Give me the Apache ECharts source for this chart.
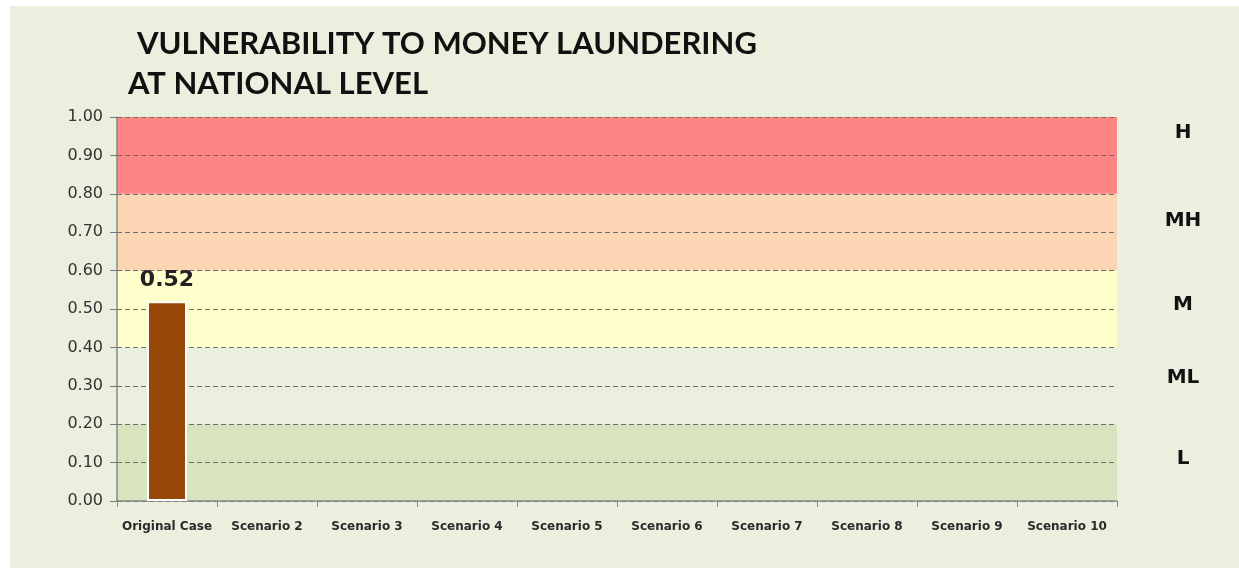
<!DOCTYPE html>
<html><head><meta charset="utf-8">
<script src="https://cdn.jsdelivr.net/npm/echarts@6/dist/echarts.min.js"></script>
<style>html,body{margin:0;padding:0;background:#fff}#c{width:1239px;height:568px}</style>
</head><body><div id="c"></div>
<script>
const titleLines = ['VULNERABILITY TO MONEY LAUNDERING', 'AT NATIONAL LEVEL'];
const categories = ['Original Case','Scenario 2','Scenario 3','Scenario 4','Scenario 5','Scenario 6','Scenario 7','Scenario 8','Scenario 9','Scenario 10'];
const values = [0.52, null, null, null, null, null, null, null, null, null];
const bandEdges = [0, 0.2, 0.4, 0.6, 0.8, 1.0];
const bandColors = ['#D8E4BD', '#EBF0DE', '#FFFFCC', '#FCD5B5', '#FF8585'];
const levelLabels = ['L', 'ML', 'M', 'MH', 'H'];
const levelLabelValues = [0.11, 0.32, 0.51, 0.73, 0.96];

const chart = echarts.init(document.getElementById('c'));
const font = 'Lato, "Open Sans", sans-serif';
const wide = '"DejaVu Sans", sans-serif';
const bands = bandColors.map((c, i) => [{yAxis: bandEdges[i], itemStyle: {color: c}}, {yAxis: bandEdges[i+1]}]);

chart.setOption({
  backgroundColor: '#ffffff',
  animation: false,
  grid: {left: 117, right: 122, top: 117, bottom: 67},
  xAxis: {
    type: 'category', data: categories,
    axisLine: {lineStyle: {color: '#888', width: 1.5}},
    axisTick: {show: true, length: 6, lineStyle: {color: '#888'}},
    axisLabel: {margin: 20, fontSize: 12, fontWeight: 'bold', color: '#2a2a2a', fontFamily: wide, interval: 0}
  },
  yAxis: {
    type: 'value', min: 0, max: 1, interval: 0.1,
    axisLine: {show: true, lineStyle: {color: '#888', width: 1.5}},
    axisTick: {show: true, length: 7, lineStyle: {color: '#777'}},
    axisLabel: {margin: 14, fontSize: 16, color: '#333', fontFamily: wide, formatter: v => v.toFixed(2)},
    splitLine: {show: true, lineStyle: {color: '#6f6f6f', type: [5, 3], width: 1}}
  },
  series: [{
    type: 'bar', data: values, barWidth: '40%',
    itemStyle: {color: '#974706', borderColor: '#ffffff', borderWidth: 2},
    label: {show: true, position: 'top', distance: 10, fontSize: 22, fontWeight: 'bold', color: '#222', fontFamily: wide,
      formatter: p => p.value.toFixed(2)},
    markArea: {silent: true, z: -1, data: bands},
    z: 3
  }]
});

function drawGraphics() {
  const els = [
    {type: 'rect', shape: {x: 10, y: 6, width: 1229, height: 562}, style: {fill: '#EBEFDE'}, z: -10, silent: true},
    {type: 'text', left: 137, top: 28, style: {text: titleLines[0], font: 'bold 31px ' + font, fill: '#111'}, z: 5},
    {type: 'text', left: 128, top: 68, style: {text: titleLines[1], font: 'bold 31px ' + font, fill: '#111'}, z: 5}
  ];
  levelLabels.forEach((t, i) => {
    const y = chart.convertToPixel({yAxisIndex: 0}, levelLabelValues[i]);
    els.push({type: 'text', x: 1183, y: y, style: {text: t, font: 'bold 20px ' + wide, fill: '#111', align: 'center', verticalAlign: 'middle'}, z: 5});
  });
  chart.setOption({graphic: els});
}
drawGraphics();
</script></body></html>
